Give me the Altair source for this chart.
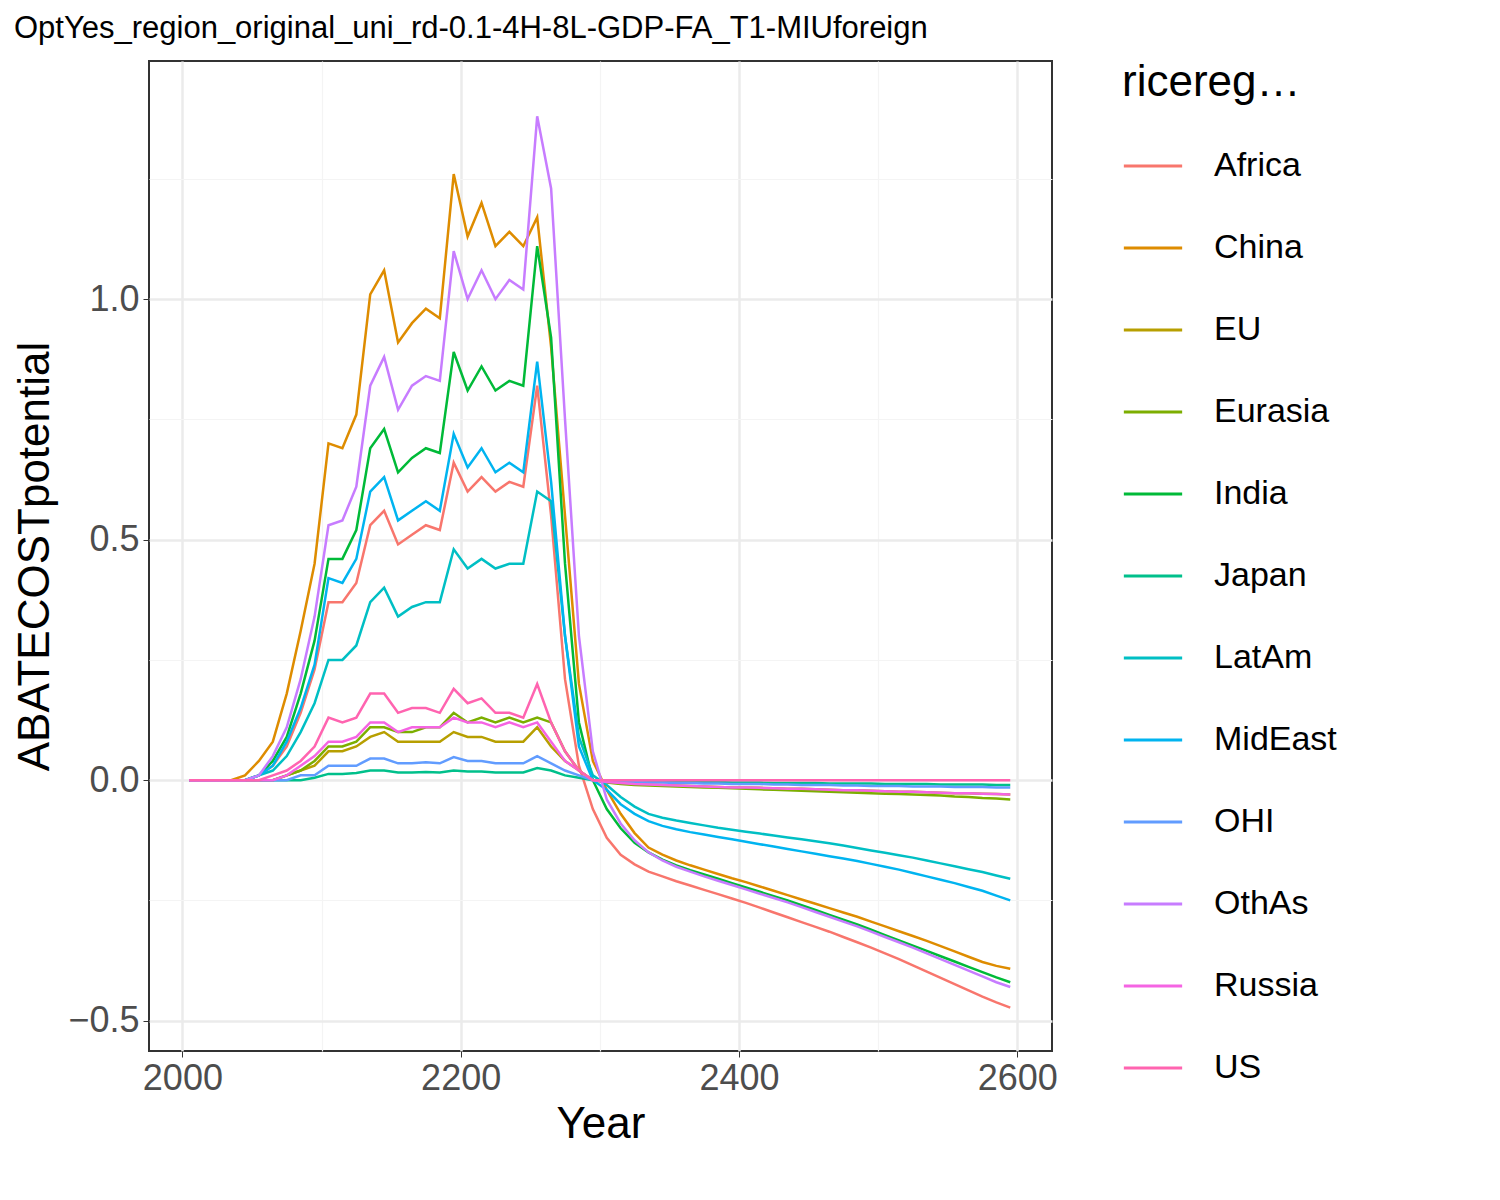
import altair as alt
import pandas as pd

years = list(range(2005, 2600, 10))

regions = ["Africa", "China", "EU", "Eurasia", "India", "Japan", "LatAm",
           "MidEast", "OHI", "OthAs", "Russia", "US"]
colors = ["#F8766D", "#DE8C00", "#B79F00", "#7CAE00", "#00BA38", "#00C08B",
          "#00BFC4", "#00B4F0", "#619CFF", "#C77CFF", "#F564E3", "#FF64B0"]

# 2005..2295
africa_pre = [0, 0, 0, 0, 0, .01, .03, .07, .14, .23, .37, .37, .41, .53, .56, .49, .51, .53, .52, .66,
              .60, .63, .60, .62, .61, .82, .55, .21, .03, -.06]
china_pre = [0, 0, 0, 0, .01, .04, .08, .18, .31, .45, .70, .69, .76, 1.01, 1.06, .91, .95, .98, .96, 1.26,
             1.13, 1.20, 1.11, 1.14, 1.11, 1.17, .90, .55, .20, .04]
eu_pre = [0, 0, 0, 0, 0, 0, 0, .01, .02, .03, .06, .06, .07, .09, .10, .08, .08, .08, .08, .10,
          .09, .09, .08, .08, .08, .11, .07, .04, .02, 0]
eurasia_pre = [0, 0, 0, 0, 0, 0, 0, .01, .02, .04, .07, .07, .08, .11, .11, .10, .10, .11, .11, .14,
               .12, .13, .12, .13, .12, .13, .12, .06, .02, 0]
india_pre = [0, 0, 0, 0, 0, .01, .04, .09, .18, .29, .46, .46, .52, .69, .73, .64, .67, .69, .68, .89,
             .81, .86, .81, .83, .82, 1.11, .92, .45, .12, 0]
japan_pre = [0, 0, 0, 0, 0, 0, 0, 0, 0, .005, .013, .013, .015, .02, .02, .016, .016, .017, .016, .02,
             .018, .018, .016, .016, .016, .025, .02, .01, .005, 0]
latam_pre = [0, 0, 0, 0, 0, .01, .02, .05, .10, .16, .25, .25, .28, .37, .40, .34, .36, .37, .37, .48,
             .44, .46, .44, .45, .45, .60, .58, .30, .09, .01]
mideast_pre = [0, 0, 0, 0, 0, .01, .03, .08, .15, .24, .42, .41, .46, .60, .63, .54, .56, .58, .56, .72,
               .65, .69, .64, .66, .64, .87, .62, .30, .07, 0]
ohi_pre = [0, 0, 0, 0, 0, 0, 0, 0, .01, .01, .03, .03, .03, .045, .045, .035, .035, .037, .035, .048,
           .04, .04, .035, .035, .035, .05, .035, .02, .01, 0]
othas_pre = [0, 0, 0, 0, 0, .01, .05, .11, .21, .34, .53, .54, .61, .82, .88, .77, .82, .84, .83, 1.10,
             1.0, 1.06, 1.0, 1.04, 1.02, 1.38, 1.23, .75, .30, .06]
russia_pre = [0, 0, 0, 0, 0, 0, 0, .01, .03, .05, .08, .08, .09, .12, .12, .10, .11, .11, .11, .13,
              .12, .12, .11, .12, .11, .12, .08, .04, .02, 0]
us_pre = [0, 0, 0, 0, 0, 0, .01, .02, .04, .07, .13, .12, .13, .18, .18, .14, .15, .15, .14, .19,
          .16, .17, .14, .14, .13, .20, .12, .06, .02, 0]

# 2305..2595
africa_post = [-.12, -.155, -.175, -.19, -.20, -.21, -.219, -.228, -.237, -.246, -.255, -.265, -.275, -.285, -.295,
               -.305, -.315, -.326, -.337, -.348, -.36, -.372, -.385, -.398, -.411, -.424, -.437, -.45, -.462, -.473]
china_post = [-.02, -.07, -.11, -.14, -.155, -.167, -.177, -.186, -.195, -.204, -.212, -.221, -.23, -.239, -.248,
              -.257, -.266, -.275, -.284, -.294, -.304, -.314, -.324, -.334, -.345, -.356, -.367, -.378, -.386, -.392]
eu_post = [-.004, -.006, -.008, -.009, -.01, -.011, -.012, -.013, -.014, -.015, -.015, -.016, -.017, -.018, -.018,
           -.019, -.02, -.021, -.021, -.022, -.023, -.024, -.024, -.025, -.026, -.027, -.027, -.028, -.029, -.03]
eurasia_post = [-.005, -.008, -.01, -.011, -.012, -.013, -.014, -.015, -.016, -.017, -.018, -.019, -.02, -.021, -.022,
                -.023, -.024, -.025, -.026, -.027, -.028, -.029, -.03, -.031, -.032, -.034, -.035, -.037, -.038, -.04]
india_post = [-.06, -.10, -.13, -.15, -.165, -.177, -.187, -.196, -.205, -.214, -.223, -.232, -.241, -.25, -.26,
              -.27, -.28, -.29, -.30, -.311, -.322, -.333, -.344, -.355, -.366, -.377, -.388, -.399, -.41, -.42]
japan_post = [-.001, -.002, -.002, -.003, -.003, -.003, -.004, -.004, -.004, -.005, -.005, -.005, -.006, -.006, -.006,
              -.006, -.007, -.007, -.007, -.007, -.008, -.008, -.008, -.008, -.009, -.009, -.009, -.009, -.01, -.01]
latam_post = [-.01, -.035, -.055, -.07, -.078, -.084, -.089, -.094, -.099, -.103, -.107, -.111, -.115, -.119, -.123,
              -.127, -.131, -.136, -.141, -.146, -.151, -.156, -.161, -.167, -.173, -.179, -.185, -.191, -.198, -.205]
mideast_post = [-.02, -.05, -.07, -.085, -.095, -.102, -.108, -.113, -.118, -.123, -.128, -.133, -.138, -.143, -.148,
                -.153, -.158, -.163, -.168, -.174, -.18, -.186, -.193, -.2, -.207, -.214, -.222, -.23, -.24, -.25]
ohi_post = [-.002, -.003, -.004, -.005, -.005, -.006, -.006, -.007, -.007, -.008, -.008, -.008, -.009, -.009, -.01,
            -.01, -.01, -.011, -.011, -.012, -.012, -.012, -.013, -.013, -.013, -.014, -.014, -.014, -.015, -.015]
othas_post = [-.04, -.09, -.125, -.15, -.167, -.18, -.19, -.2, -.209, -.218, -.227, -.236, -.245, -.254, -.264,
              -.274, -.284, -.294, -.304, -.315, -.326, -.337, -.348, -.36, -.372, -.384, -.396, -.408, -.42, -.43]
russia_post = [-.004, -.006, -.008, -.009, -.01, -.011, -.012, -.013, -.014, -.015, -.015, -.016, -.017, -.018, -.018,
               -.019, -.02, -.021, -.021, -.022, -.023, -.024, -.024, -.025, -.026, -.027, -.027, -.028, -.029, -.03]
us_post = [0.0] * 30

series = {
    "Africa": africa_pre + africa_post, "China": china_pre + china_post,
    "EU": eu_pre + eu_post, "Eurasia": eurasia_pre + eurasia_post,
    "India": india_pre + india_post, "Japan": japan_pre + japan_post,
    "LatAm": latam_pre + latam_post, "MidEast": mideast_pre + mideast_post,
    "OHI": ohi_pre + ohi_post, "OthAs": othas_pre + othas_post,
    "Russia": russia_pre + russia_post, "US": us_pre + us_post,
}

rows = []
for r in regions:
    for y, v in zip(years, series[r]):
        rows.append({"Year": y, "ABATECOSTpotential": v, "riceregionname": r})
df = pd.DataFrame(rows)

FONT = "Liberation Sans"

x_axis = alt.Axis(
    values=[2000, 2100, 2200, 2300, 2400, 2500, 2600],
    labelExpr="datum.value % 200 == 0 ? datum.label : ''",
    format="d", labelFontSize=36, labelColor="#4d4d4d", labelFont=FONT,
    titleFontSize=44, titleFont=FONT, titleFontWeight="normal", titleColor="black",
    tickColor="#333333", tickOpacity={"expr": "datum.value % 200 == 0 ? 1 : 0"},
    gridColor={"expr": "datum.value % 200 == 0 ? '#ebebeb' : '#f4f4f4'"},
    gridWidth={"expr": "datum.value % 200 == 0 ? 2.5 : 1.2"},
    domain=False, tickSize=6, labelPadding=4, titlePadding=6,
)
y_axis = alt.Axis(
    values=[-0.5, -0.25, 0, 0.25, 0.5, 0.75, 1.0, 1.25],
    labelExpr="(datum.value * 4) % 2 == 0 ? format(datum.value, '.1f') : ''",
    labelFontSize=36, labelColor="#4d4d4d", labelFont=FONT,
    titleFontSize=44, titleFont=FONT, titleFontWeight="normal", titleColor="black",
    tickColor="#333333", tickOpacity={"expr": "(datum.value * 4) % 2 == 0 ? 1 : 0"},
    gridColor={"expr": "(datum.value * 4) % 2 == 0 ? '#ebebeb' : '#f4f4f4'"},
    gridWidth={"expr": "(datum.value * 4) % 2 == 0 ? 2.5 : 1.2"},
    domain=False, tickSize=6, labelPadding=4, titlePadding=10,
)

chart = alt.Chart(df).mark_line(strokeWidth=2.5).encode(
    x=alt.X("Year:Q", scale=alt.Scale(domain=[1976, 2625], nice=False, zero=False), axis=x_axis),
    y=alt.Y("ABATECOSTpotential:Q", scale=alt.Scale(domain=[-0.563, 1.495], nice=False, zero=False), axis=y_axis),
    color=alt.Color("riceregionname:N", scale=alt.Scale(domain=regions, range=colors),
                    legend=alt.Legend(symbolType="stroke", symbolSize=3400, symbolStrokeWidth=3,
                                      labelFontSize=34, labelFont=FONT, titleFontSize=44, titleFont=FONT,
                                      titleFontWeight="normal", titleColor="black", labelColor="black",
                                      rowPadding=34, titlePadding=30, labelOffset=30, padding=0,
                                      offset=70, labelLimit=300)),
).properties(
    width=903, height=990,
    title=alt.TitleParams("OptYes_region_original_uni_rd-0.1-4H-8L-GDP-FA_T1-MIUforeign",
                          anchor="start", fontSize=31, font=FONT, fontWeight="normal", color="black", offset=16),
).configure_view(stroke="#333333", strokeWidth=2)

chart.save("out.html", embed_options={"renderer": "svg", "actions": False})
